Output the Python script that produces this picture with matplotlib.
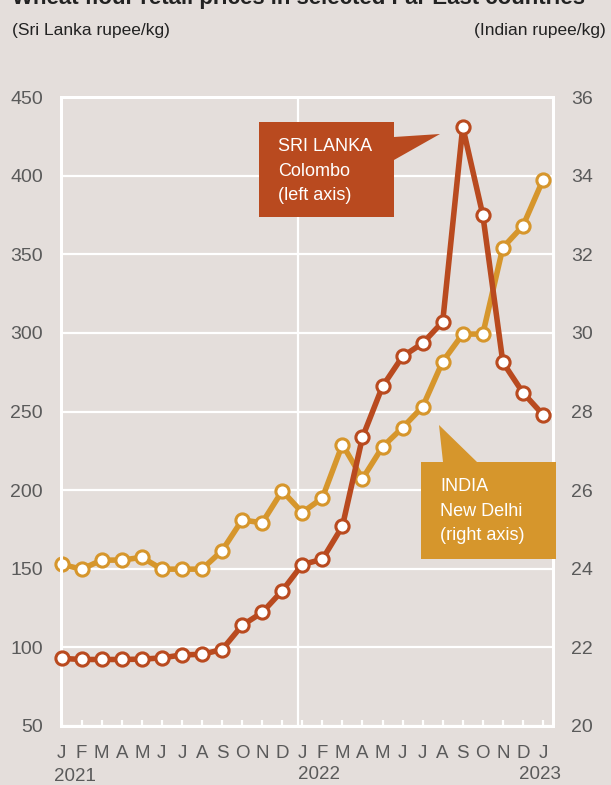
import numpy as np
import matplotlib
matplotlib.use("Agg")
import matplotlib.pyplot as plt
from matplotlib.patches import Polygon

# Wheat flour retail prices, monthly Jan 2021 - Jan 2023
months = ["J", "F", "M", "A", "M", "J", "J", "A", "S", "O", "N", "D",
          "J", "F", "M", "A", "M", "J", "J", "A", "S", "O", "N", "D", "J"]
years = ["2021", "2022", "2023"]

# Sri Lanka, Colombo (Sri Lanka rupee/kg, left axis)
sri_lanka = [93.0, 92.3, 92.3, 92.3, 92.5, 93.3, 95.2, 95.6, 98.6, 114.0, 122.2, 136.0,
             152.7, 156.0, 177.0, 233.6, 266.0, 285.0, 293.4, 307.0, 431.0, 375.0,
             281.3, 262.0, 248.0]

# India, New Delhi (Indian rupee/kg, right axis)
india = [24.11, 23.99, 24.22, 24.22, 24.29, 23.99, 23.99, 23.99, 24.46, 25.24, 25.17, 25.98,
         25.43, 25.80, 27.16, 26.29, 27.10, 27.59, 28.12, 29.27, 29.97, 29.97,
         32.17, 32.72, 33.89]

left_ticks = [50, 100, 150, 200, 250, 300, 350, 400, 450]
right_ticks = [20, 22, 24, 26, 28, 30, 32, 34, 36]

sl_label = ["SRI LANKA", "Colombo", "(left axis)"]
in_label = ["INDIA", "New Delhi", "(right axis)"]

BG = "#e4dedb"
RED = "#b94a1f"
GOLD = "#d6962c"
GREY = "#5a5a5a"

plt.rcParams["font.family"] = ["Liberation Sans", "DejaVu Sans"]

W, H = 611, 785
fig = plt.figure(figsize=(W / 100, H / 100), dpi=100, facecolor=BG)


def px(x, y):
    return x / W, 1 - y / H


ax2 = fig.add_axes([61 / W, 1 - 726 / H, (553 - 61) / W, (726 - 97) / H])
ax = ax2.twinx()
ax2.set_facecolor(BG)
ax.patch.set_visible(False)
# Sri Lanka line sits on top of India's where they cross
ax2.set_zorder(1)
ax.set_zorder(2)

x = np.arange(len(months))

ax2.plot(x, india, color=GOLD, lw=4, marker="o", ms=9.5, mfc="white",
         mec=GOLD, mew=2.2, zorder=3, clip_on=False)
ax.plot(x, sri_lanka, color=RED, lw=4, marker="o", ms=9.5, mfc="white",
        mec=RED, mew=2.2, zorder=3, clip_on=False)

ax2.set_xlim(-0.03, 24.5)
ax.set_xlim(-0.03, 24.5)
ax.set_ylim(50, 450)
ax2.set_ylim(20, 36)

ax2.set_yticks(right_ticks)
ax.set_yticks(left_ticks)
ax2.yaxis.grid(True, color="white", lw=1.6)
ax2.axvline(11.8, color="white", lw=1.6, zorder=0.5)

for a in (ax, ax2):
    for s in a.spines.values():
        s.set_color("white")
        s.set_linewidth(2.2)

ax.yaxis.tick_left()
ax.tick_params(axis="y", length=0, pad=13, labelsize=14, labelcolor=GREY)
ax.set_yticklabels([str(v) for v in left_ticks])
ax2.yaxis.tick_right()
ax2.tick_params(axis="y", length=0, pad=13, labelsize=14, labelcolor=GREY)
ax2.set_yticklabels([str(v) for v in right_ticks])

ax.set_xticks([])
ax2.set_xticks(x)
ax2.set_xticklabels(months)
ax2.tick_params(axis="x", direction="in", length=4, width=1.6, color="white",
                pad=14, labelsize=13.5, labelcolor=GREY)

# year labels
fig.text(*px(54, 781), years[0], ha="left", va="baseline", fontsize=13.5, color=GREY)
fig.text(*px(298, 779), years[1], ha="left", va="baseline", fontsize=13.5, color=GREY)
fig.text(*px(561, 779), years[2], ha="right", va="baseline", fontsize=13.5, color=GREY)

# header texts
fig.text(*px(12, 4), "Wheat flour retail prices in selected Far East countries",
         ha="left", va="baseline", fontsize=16, fontweight="bold", color="#222222")
fig.text(*px(12, 35), "(Sri Lanka rupee/kg)", ha="left", va="baseline",
         fontsize=12.5, color="#222222")
fig.text(*px(606, 35), "(Indian rupee/kg)", ha="right", va="baseline",
         fontsize=12.5, color="#222222")

# callout boxes
sl_box = [(259, 122), (394, 122), (394, 137), (440, 134), (394, 160),
          (394, 217), (259, 217)]
in_box = [(421, 462), (443, 462), (439, 425), (477, 462), (556, 462),
          (556, 559), (421, 559)]
for pts, col in ((sl_box, RED), (in_box, GOLD)):
    poly = Polygon([px(a, b) for a, b in pts], closed=True, facecolor=col,
                   edgecolor="none", transform=fig.transFigure, zorder=5)
    fig.patches.append(poly)

for i, (s1, s2) in enumerate(zip(sl_label, in_label)):
    fig.text(*px(278, 151 + 24.5 * i), s1, ha="left", va="baseline",
             fontsize=13, color="white", zorder=6)
    fig.text(*px(440, 491 + 24.5 * i), s2, ha="left", va="baseline",
             fontsize=13, color="white", zorder=6)

fig.savefig("out.png", dpi=100, facecolor=BG)
